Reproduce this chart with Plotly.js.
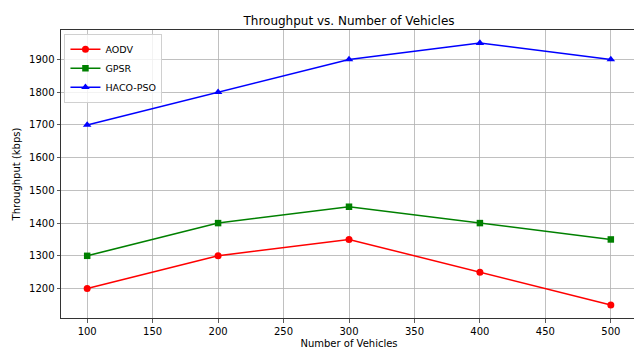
<!DOCTYPE html>
<html>
<head>
<meta charset="utf-8">
<script src="https://cdn.plot.ly/plotly-3.0.1.min.js"></script>
<style>
html,body{margin:0;padding:0;overflow:hidden;background:#fff;width:634px;height:351px;}
#chart{width:700px;height:351px;}
</style>
</head>
<body>
<div id="chart"></div>
<script>
const vehicles = [100, 200, 300, 400, 500];
const aodv = [1200, 1300, 1350, 1250, 1150];
const gpsr = [1300, 1400, 1450, 1400, 1350];
const hacoPso = [1700, 1800, 1900, 1950, 1900];
const xTicks = [100, 150, 200, 250, 300, 350, 400, 450, 500];
const yTicks = [1200, 1300, 1400, 1500, 1600, 1700, 1800, 1900];

const font = "DejaVu Sans, sans-serif";
function series(name, y, color, symbol, size) {
  return {
    x: vehicles, y: y, name: name, type: 'scatter', mode: 'lines+markers',
    line: {color: color, width: 1.5},
    marker: {color: color, symbol: symbol, size: size}
  };
}
const data = [
  series('AODV', aodv, '#ff0000', 'circle', 7),
  series('GPSR', gpsr, '#008000', 'square', 6.5),
  series('HACO-PSO', hacoPso, '#0000ff', 'triangle-up', 7.5)
];
const axisCommon = {
  showline: true, linecolor: '#333', linewidth: 1, mirror: true,
  ticks: 'outside', ticklen: 3.5, tickcolor: '#333', tickwidth: 0.8,
  showgrid: true, gridcolor: '#b0b0b0', gridwidth: 0.8,
  zeroline: false, tickfont: {family: font, size: 10, color: '#000'}
};
const layout = {
  width: 700, height: 351,
  margin: {l: 61, r: 63, t: 30, b: 33},
  paper_bgcolor: '#fff', plot_bgcolor: '#fff',
  font: {family: font, color: '#000'},
  title: {text: 'Throughput vs. Number of Vehicles', font: {family: font, size: 12, color: '#000'},
          x: 0.5, xref: 'paper', xanchor: 'center', y: 1, yref: 'paper', yanchor: 'bottom', pad: {b: 5}},
  xaxis: Object.assign({}, axisCommon, {
    range: [80, 520], tickvals: xTicks,
    title: {text: 'Number of Vehicles', font: {family: font, size: 10, color: '#000'}, standoff: 4}
  }),
  yaxis: Object.assign({}, axisCommon, {
    range: [1110, 1990], tickvals: yTicks,
    title: {text: 'Throughput (kbps)', font: {family: font, size: 10, color: '#000'}, standoff: 6}
  }),
  showlegend: true,
  legend: {
    x: 0.006, y: 0.987, xanchor: 'left', yanchor: 'top',
    bgcolor: 'rgba(255,255,255,0.8)', bordercolor: '#d0d0d0', borderwidth: 1,
    font: {family: font, size: 9.5, color: '#000'}, tracegroupgap: 0, itemwidth: 30
  }
};
Plotly.newPlot('chart', data, layout, {displayModeBar: false, staticPlot: true});
</script>
</body>
</html>
